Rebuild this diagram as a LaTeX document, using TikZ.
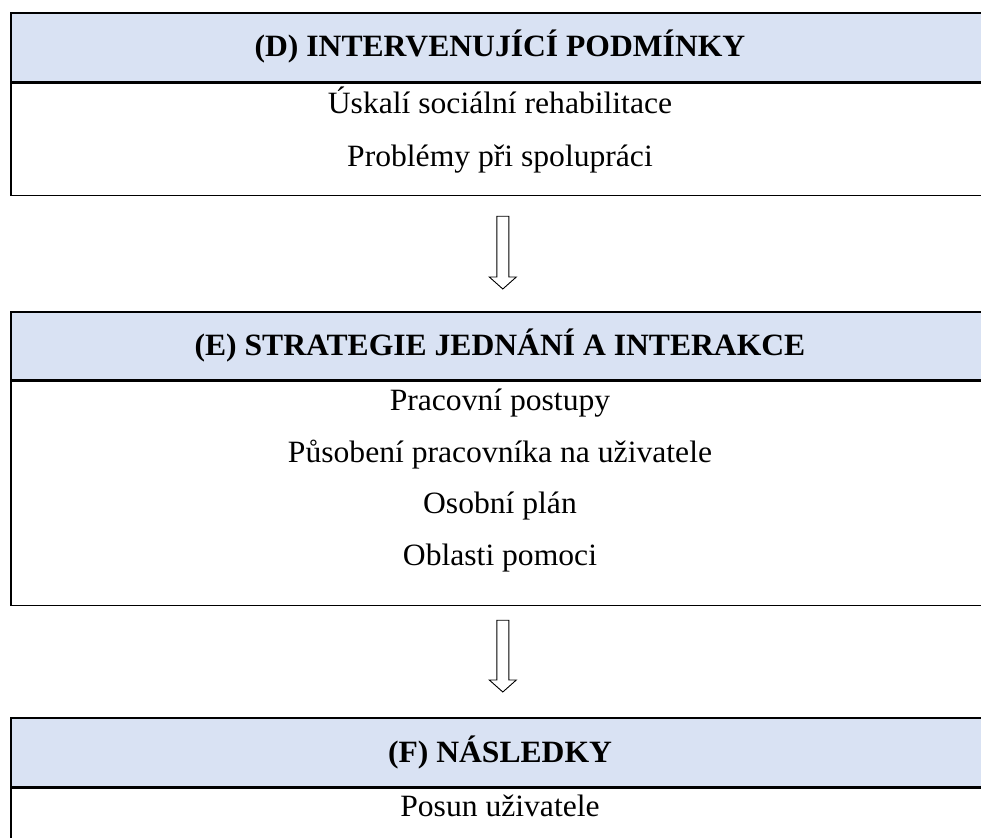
\documentclass[tikz,border=0pt]{standalone}
\usepackage{fontspec}
\setmainfont{Liberation Serif}[FakeStretch=1.02]
\usetikzlibrary{calc}
\definecolor{hdrblue}{HTML}{D9E2F3}
\tikzset{
  hdrbox/.style={draw=black, line width=1.6pt, fill=hdrblue, rectangle, inner sep=0pt, anchor=north west, minimum width=982pt},
  bodybox/.style={draw=black, line width=1.6pt, fill=white, rectangle, inner sep=0pt, anchor=north west, minimum width=982pt},
  titletext/.style={inner sep=0pt, anchor=base, font=\fontsize{31}{37}\selectfont\bfseries},
  itemtext/.style={inner sep=0pt, anchor=base, font=\fontsize{31}{37}\selectfont},
  hollowarrow/.style={draw=black, line width=0.9pt, fill=white, line join=miter}
}
\newcommand\blockarrowdown[2]{%
  \draw[hollowarrow] ($(#1)+(-6,0)$) -- ($(#2)+(-6,-12)$) -- ($(#2)+(-13.5,-12)$) -- (#2)
    -- ($(#2)+(13.5,-12)$) -- ($(#2)+(6,-12)$) -- ($(#1)+(6,0)$) -- cycle;}
\begin{document}
\begin{tikzpicture}[x=1pt,y=-1pt]
\useasboundingbox (0,0) rectangle (981,837);
\clip (0,0) rectangle (981,837);
\fill[white] (0,0) rectangle (981,837);
% Box D
\node[hdrbox, minimum height=69pt] (Dh) at (10,12) {};
\node[bodybox, minimum height=112pt] (Db) at (Dh.south west) {};
\node[titletext] (Dt) at (500,57) {(D) INTERVENUJÍCÍ PODMÍNKY};
\node[itemtext] (D1) at (500,114) {Úskalí sociální rehabilitace};
\node[itemtext] (D2) at (500,166.5) {Problémy při spolupráci};
% Box E
\node[hdrbox, minimum height=68pt] (Eh) at (10,311) {};
\node[bodybox, minimum height=224pt] (Eb) at (Eh.south west) {};
\node[titletext] (Et) at (500,355.5) {(E) STRATEGIE JEDNÁNÍ A INTERAKCE};
\node[itemtext] (E1) at (500,410.5) {Pracovní postupy};
\node[itemtext] (E2) at (500,462) {Působení pracovníka na uživatele};
\node[itemtext] (E3) at (500,513.5) {Osobní plán};
\node[itemtext] (E4) at (500,565) {Oblasti pomoci};
% Box F
\node[hdrbox, minimum height=69pt] (Fh) at (10,717) {};
\node[bodybox, minimum height=120pt] (Fb) at (Fh.south west) {};
\node[titletext] (Ft) at (500,762) {(F) NÁSLEDKY};
\node[itemtext] (F1) at (500,816) {Posun uživatele};
% Arrows
\coordinate (a1s) at ($(Db.south)+(1,20)$);
\coordinate (a1e) at ($(Eh.north)+(1,-22)$);
\blockarrowdown{a1s}{a1e}
\coordinate (a2s) at ($(Eb.south)+(1,14)$);
\coordinate (a2e) at ($(Fh.north)+(1,-25)$);
\blockarrowdown{a2s}{a2e}
\end{tikzpicture}
\end{document}
